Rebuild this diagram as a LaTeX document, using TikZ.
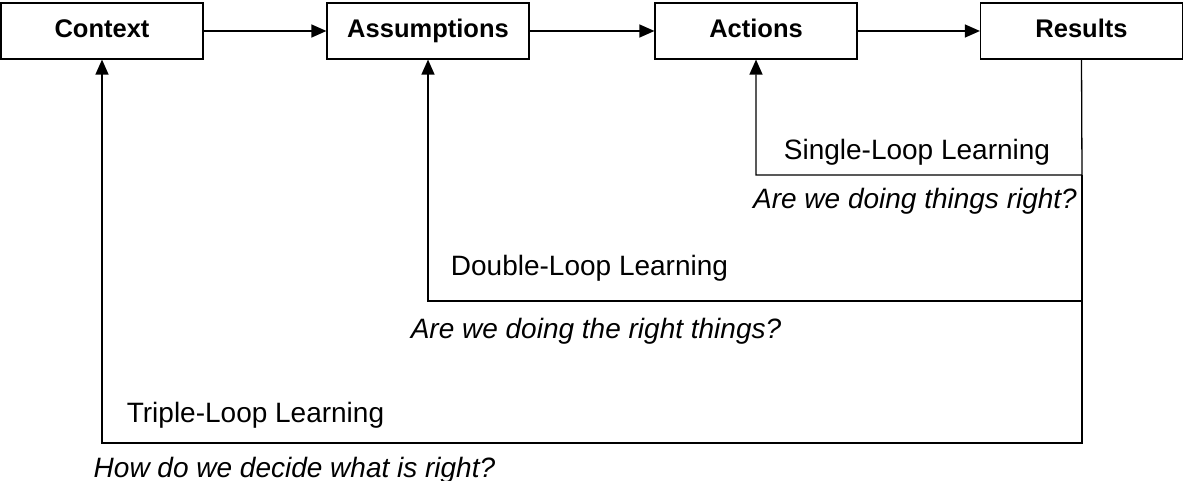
\documentclass[tikz,border=0pt]{standalone}
\usepackage{fontspec}
\setmainfont{Liberation Sans}
\usetikzlibrary{arrows.meta}
\begin{document}
\begin{tikzpicture}[x=1pt,y=-1pt,
  stage/.style={draw,line width=1.2pt,minimum width=202pt,minimum height=56pt,inner sep=0pt,text height=18pt,text depth=5pt,font=\fontsize{25.5}{28}\selectfont\bfseries},
  link/.style={line width=1.3pt},
  arr/.style={link,-{Triangle[length=15pt,width=13pt]}},
  looplabel/.style={font=\fontsize{28}{32}\selectfont,inner sep=0pt,anchor=base},
  question/.style={font=\fontsize{28}{32}\selectfont\itshape,inner sep=0pt,anchor=base}]
\useasboundingbox (0,0) rectangle (1184,481);
\node[stage] (ctx) at (102,31) {Context};
\node[stage] (ass) at (428,31) {Assumptions};
\node[stage] (act) at (756,31) {Actions};
\node[stage] (res) at (1081.5,31) {Results};
\draw[arr] (ctx) -- (ass);
\draw[arr] (ass) -- (act);
\draw[arr] (act) -- (res);
\coordinate (c1) at (1082,175);
\coordinate (c2) at (1082,301);
\coordinate (c3) at (1082,443);
\draw[arr] (res.south) -- (c1) -| (act.south);
\draw[arr] (c1) -- (c2) -| (ass.south);
\draw[arr] (c2) -- (c3) -| (ctx.south);
\node[looplabel] (l1) at (917,160) {Single-Loop Learning};
\node[question] (q1) at (915,209) {Are we doing things right?};
\node[looplabel] (l2) at (589.5,276) {Double-Loop Learning};
\node[question] (q2) at (596,338) {Are we doing the right things?};
\node[looplabel] (l3) at (255.5,422) {Triple-Loop Learning};
\node[question] (q3) at (294.5,477) {How do we decide what is right?};
\end{tikzpicture}
\end{document}
